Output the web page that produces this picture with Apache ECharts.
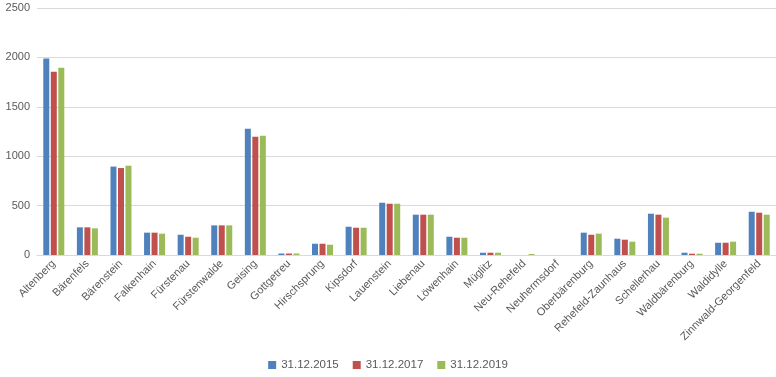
<!DOCTYPE html>
<html><head><meta charset="utf-8">
<script src="https://cdn.jsdelivr.net/npm/echarts@6/dist/echarts.min.js"></script>
<style>html,body{margin:0;padding:0;background:#fff}#c{width:776px;height:377px}</style>
</head><body><div id="c"></div>
<script>
const categories = ["Altenberg","Bärenfels","Bärenstein","Falkenhain","Fürstenau","Fürstenwalde","Geising","Gottgetreu","Hirschsprung","Kipsdorf","Lauenstein","Liebenau","Löwenhain","Müglitz","Neu-Rehefeld","Neuhermsdorf","Oberbärenburg","Rehefeld-Zaunhaus","Schellerhau","Waldbärenburg","Waldidylle","Zinnwald-Georgenfeld"];
const seriesNames = ["31.12.2015","31.12.2017","31.12.2019"];
const v2015 = [1990,280,895,226,205,300,1278,15,114,286,529,408,185,23,0,0,226,165,418,23,124,438];
const v2017 = [1855,280,880,226,185,300,1197,15,114,276,519,408,175,23,0,0,205,155,408,13,124,428];
const v2019 = [1895,270,904,216,175,300,1207,15,104,276,519,408,175,23,10,0,216,135,378,13,135,408];
const yTicks = [0,500,1000,1500,2000,2500];
const colors = ["#4F81BD","#C0504D","#9BBB59"];
const font = "Liberation Sans";
const chart = echarts.init(document.getElementById('c'));
const data = [v2015, v2017, v2019];
chart.setOption({
  animation:false,
  color: colors,
  grid:{left:37,right:0,top:8,bottom:122,containLabel:false},
  legend:{bottom:1,left:'center',itemWidth:8,itemHeight:8,itemGap:14,icon:'rect',
    textStyle:{color:'#595959',fontSize:11.5,fontFamily:font}},
  xAxis:{type:'category',data:categories,
    axisLine:{show:true,lineStyle:{color:'#D9D9D9'}},axisTick:{show:false},
    axisLabel:{rotate:45,interval:0,color:'#595959',fontSize:11,fontFamily:font,margin:7}},
  yAxis:{type:'value',min:yTicks[0],max:yTicks[yTicks.length-1],interval:500,
    axisLine:{show:false},axisTick:{show:false},
    splitLine:{lineStyle:{color:'#D9D9D9'}},
    axisLabel:{color:'#595959',fontSize:11,fontFamily:font,margin:7,formatter:v=>String(v)}},
  series: seriesNames.map((n,i)=>({name:n,type:'bar',data:data[i],barWidth:6,barGap:'25%'}))
});
</script></body></html>
